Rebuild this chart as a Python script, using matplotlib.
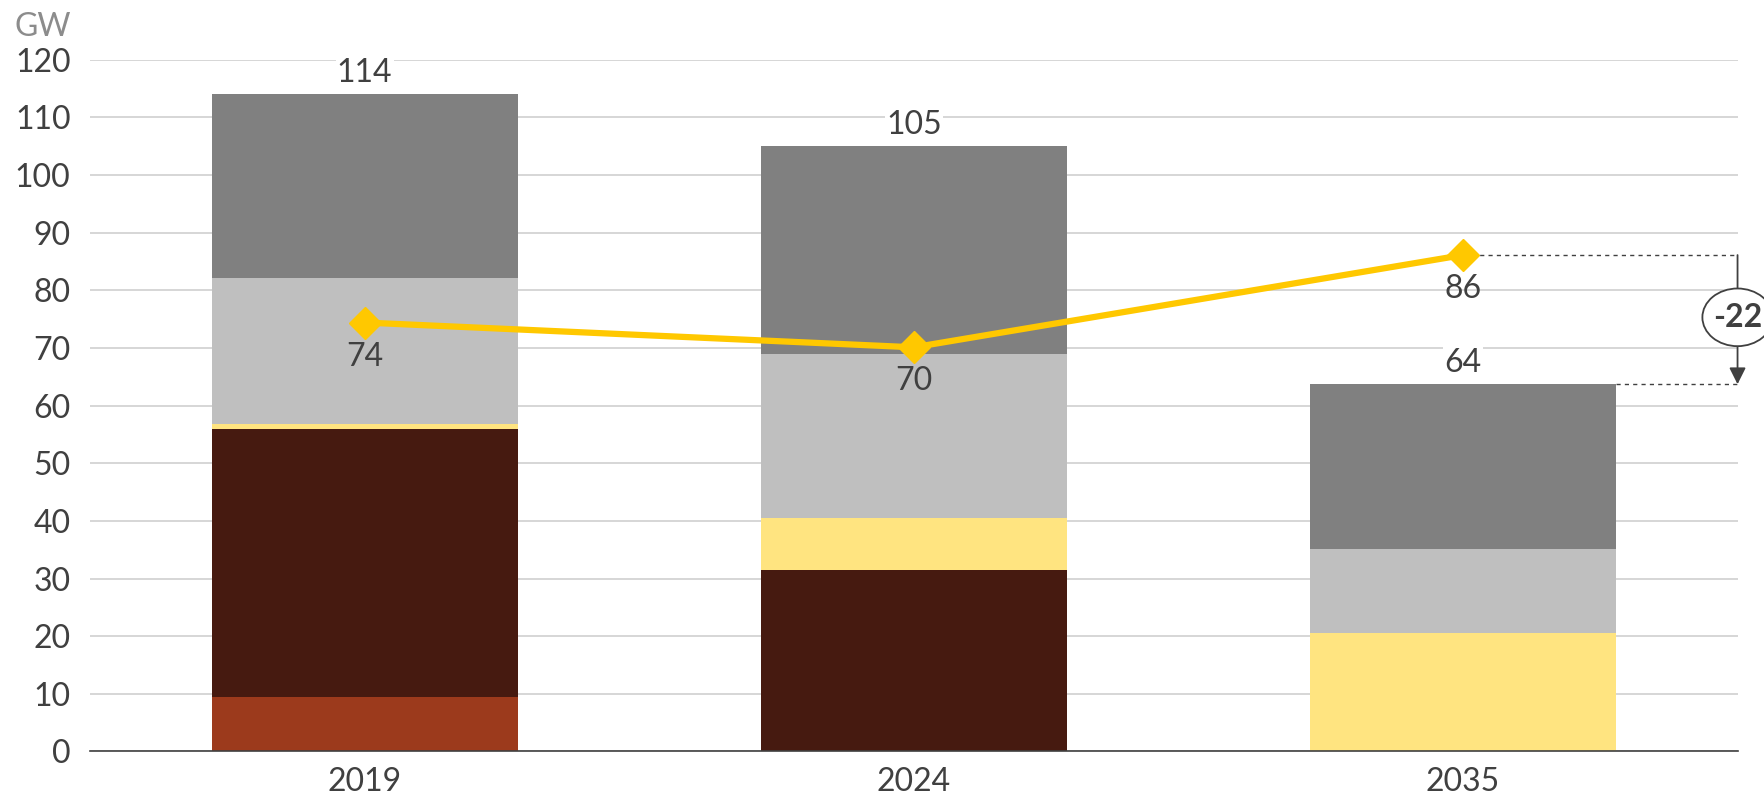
import numpy as np
import matplotlib
matplotlib.use('Agg')
import matplotlib.pyplot as plt
from matplotlib.patches import Ellipse

plt.rcParams['font.family'] = ['Lato', 'DejaVu Sans']

'~~~~~~~~~~ DATA ~~~~~~~~~~'
years = ['2019', '2024', '2035']
seg_red = [9.5, 0.0, 0.0]
seg_brown = [46.5, 31.4, 0.0]
seg_yellow = [0.8, 9.1, 20.6]
seg_lgray = [25.4, 28.5, 14.6]
seg_dgray = [31.8, 36.0, 28.5]
totals = [114, 105, 64]
line_vals = [74.4, 70.1, 86.1]
line_labels = ['74', '70', '86']
delta_label = '-22'

segments = [seg_red, seg_brown, seg_yellow, seg_lgray, seg_dgray]
colors = ['#9C3A1C', '#461A10', '#FFE480', '#BFBFBF', '#808080']
txt = '#404040'
fs = 23

'~~~~~~~~~~ FIGURE ~~~~~~~~~~'
fig = plt.figure(figsize=(17.64, 8.01), dpi=100)
ax = fig.add_axes([0.051, 0.0618, 0.934, 0.8638])

x = np.arange(len(years))
width = 0.557
bottom = np.zeros(len(years))
for seg, col in zip(segments, colors):
    ax.bar(x, seg, width, bottom=bottom, color=col, zorder=2)
    bottom += np.array(seg)
tops = bottom.copy()

for xi, t, tot in zip(x, tops, totals):
    ax.text(xi, t + 1.0, str(tot), ha='center', va='bottom', fontsize=fs, color=txt, zorder=4,
            bbox=dict(facecolor='white', edgecolor='none', pad=1))

ax.plot(x, line_vals, color='#FFC800', lw=4.5, marker='D', ms=16, zorder=5)
for xi, v, lab in zip(x, line_vals, line_labels):
    ax.text(xi, v - 3.3, lab, ha='center', va='top', fontsize=fs, color=txt, zorder=4)

# difference annotation
xr = 2.5
ax.plot([x[2], xr], [line_vals[2], line_vals[2]], ls=(0, (3, 3)), color=txt, lw=1, zorder=3, clip_on=False)
ax.plot([x[2] + width / 2, xr], [tops[2], tops[2]], ls=(0, (3, 3)), color=txt, lw=1, zorder=3, clip_on=False)
ax.annotate('', xy=(xr, tops[2]), xytext=(xr, line_vals[2]),
            arrowprops=dict(arrowstyle='-|>', color=txt, lw=1.3, mutation_scale=25, shrinkA=0, shrinkB=0),
            annotation_clip=False, zorder=6)
ymid = 75.3
ax.add_patch(Ellipse((xr, ymid), 0.128, 10.0, facecolor='white', edgecolor=txt, lw=1.3, zorder=7, clip_on=False))
ax.text(xr, ymid, delta_label, ha='center', va='center', fontsize=fs, fontweight='bold', color=txt, zorder=8)

ax.set_xlim(-0.5, 2.5)
ax.set_ylim(0, 120)
ax.set_yticks(np.arange(0, 121, 10))
ax.set_xticks(x)
ax.set_xticklabels(years)
ax.tick_params(axis='both', length=0, labelsize=fs, labelcolor=txt)
ax.tick_params(axis='y', pad=14)
ax.tick_params(axis='x', pad=11)
ax.yaxis.grid(True, color='#D0D0D0', lw=1.2, zorder=0)
ax.set_axisbelow(True)
for s in ['top', 'right', 'left']:
    ax.spines[s].set_visible(False)
ax.spines['bottom'].set_color('#404040')
ax.spines['bottom'].set_linewidth(1.2)

fig.text(0.008, 0.985, 'GW', ha='left', va='top', fontsize=fs, color='#8C8C8C')

fig.savefig('out.png', dpi=100)
